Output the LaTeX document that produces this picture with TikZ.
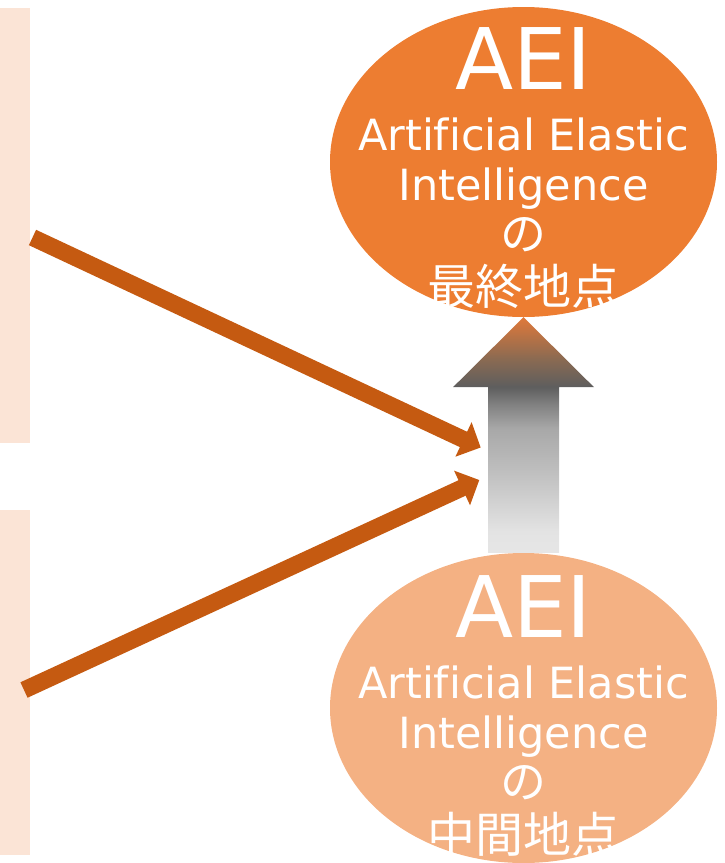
\documentclass[tikz,border=0pt]{standalone}
\usepackage{fontspec}
\setmainfont{DejaVu Sans}[Ligatures=CommonOff]
\newfontfamily\jpfont{Noto Sans CJK JP}
\usetikzlibrary{shapes.geometric,arrows.meta,calc}
\definecolor{orangeA}{HTML}{ED7D31}
\definecolor{orangeB}{HTML}{F4B183}
\definecolor{peach}{HTML}{FBE4D6}
\definecolor{rust}{HTML}{C55A11}
\definecolor{s0}{HTML}{E6E6E6}
\definecolor{s1}{HTML}{E3E3E3}
\definecolor{s2}{HTML}{CFCFCF}
\definecolor{s3}{HTML}{BDBDBD}
\definecolor{s4}{HTML}{A8A8A8}
\definecolor{s5}{HTML}{808080}
\definecolor{s6}{HTML}{5E5E5E}
\definecolor{s7}{HTML}{8A6A52}
\definecolor{s8}{HTML}{E0793A}
\pgfdeclareverticalshading{arrowgrad}{100bp}{color(0bp)=(s0); color(25bp)=(s0); color(29.6bp)=(s1); color(36.6bp)=(s2); color(42.9bp)=(s3); color(51.4bp)=(s4); color(56.6bp)=(s5); color(60.2bp)=(s6); color(66.1bp)=(s7); color(75bp)=(s8); color(100bp)=(s8)}
\tikzset{
  bar/.style={fill=peach, draw=none, minimum width=30pt, inner sep=0pt, anchor=north west},
  bubble/.style={ellipse, draw=none, minimum width=387pt, minimum height=310pt, inner sep=0pt},
  bubbletext/.style={text=white, align=center, inner sep=0pt, anchor=north, font=\fontsize{43}{50}\selectfont},
  feed/.style={draw=rust, line width=17pt, -{Triangle[length=19pt,width=37pt]}},
}
\begin{document}
\begin{tikzpicture}[x=1pt,y=-1pt]
\useasboundingbox (0,0) rectangle (725,863);
% left bars
\node[bar, minimum height=435pt] (barA) at (0,8) {};
\node[bar, minimum height=345pt] (barB) at (0,510) {};
% ellipses
\node[bubble, fill=orangeA] (goal) at (523.5,162) {};
\node[bubble, fill=orangeB] (mid) at (523.5,708) {};
% texts
\node[bubbletext] (goalText) at (523.5,27)
  {{\fontsize{85}{85}\selectfont AEI}\\[11pt]
   Artificial Elastic\\
   Intelligence\\
   {\jpfont\fontsize{46}{50}\selectfont の}\\[4pt]
   {\jpfont\fontsize{48}{50}\selectfont 最終地点}};
\node[bubbletext] (midText) at (523.5,575)
  {{\fontsize{85}{85}\selectfont AEI}\\[11pt]
   Artificial Elastic\\
   Intelligence\\
   {\jpfont\fontsize{46}{50}\selectfont の}\\[4pt]
   {\jpfont\fontsize{48}{50}\selectfont 中間地点}};
% gradient block arrow from mid to goal
\path (mid.north) coordinate (shaftBase) (goal.south) coordinate (tipTop);
\shade[shading=arrowgrad]
  ($(shaftBase)+(-35.5,0)$) -- ($(shaftBase)+(35.5,0)$) -- ($(tipTop)+(35.5,70)$)
  -- ($(tipTop)+(70.5,70)$) -- (tipTop) -- ($(tipTop)+(-70.5,70)$)
  -- ($(tipTop)+(-35.5,70)$) -- cycle;
% orange feed arrows
\coordinate (s1) at (32.5,237.5);
\coordinate (e1) at (480.7,447.5);
\coordinate (s2) at (24,690);
\coordinate (e2) at (479.3,480);
\draw[feed] (s1) -- (e1);
\draw[feed] (s2) -- (e2);
\end{tikzpicture}
\end{document}
